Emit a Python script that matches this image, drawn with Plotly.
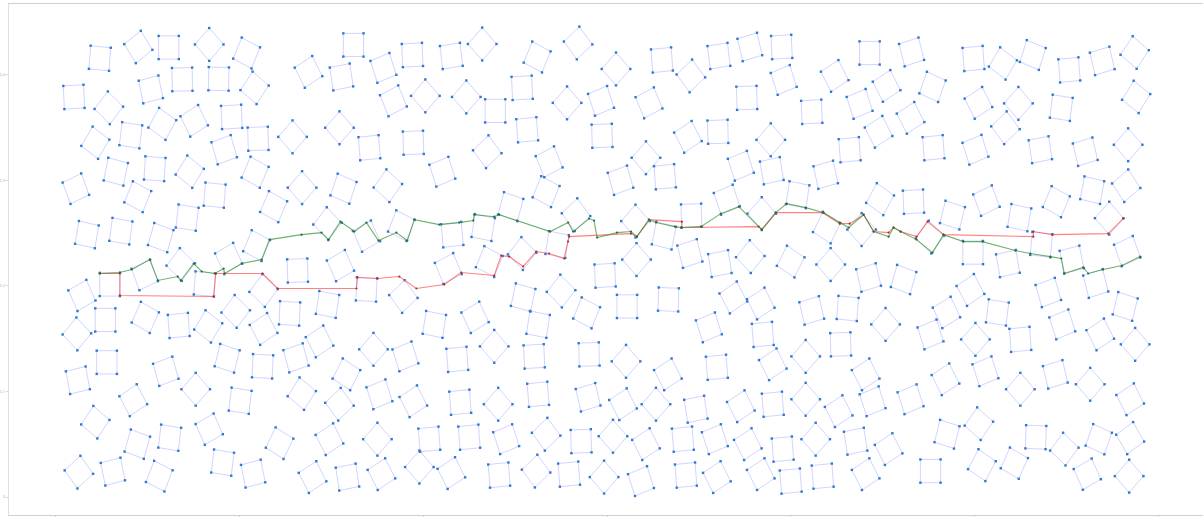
import numpy as np
import plotly.graph_objects as go

# Square obstacles: centre (x, y) and rotation in degrees
obs_x = [0.0478, 0.0897, 0.1228, 0.1669, 0.2076, 0.0196, 0.0576, 0.1033, 0.1375, 0.1772,
         0.2163, 0.1158, 0.0815, 0.0429, 0.1505, 0.1913, 0.1832, 0.2201, 0.2576, 0.0652,
         0.1076, 0.1457, 0.2169, 0.0217, 0.0891, 0.1728, 0.2370, 0.0337, 0.0707, 0.1141,
         0.1429, 0.2185, 0.1359, 0.0967, 0.1881, 0.1620, 0.0587, 0.0283, 0.2261, 0.2631,
         0.2544, 0.1957, 0.2261, 0.1658, 0.1337, 0.0973, 0.0538, 0.0228, 0.0239, 0.0554,
         0.1196, 0.1522, 0.1864, 0.2250, 0.2614, 0.0842, 0.2006, 0.2677, 0.0429, 0.0886,
         0.1239, 0.1669, 0.2435, 0.0250, 0.0620, 0.1125, 0.1815, 0.2147, 0.2794, 0.2680,
         0.3131, 0.3614, 0.4951, 0.5337, 0.5663, 0.2957, 0.3761, 0.3381, 0.4315, 0.4652,
         0.5076, 0.5457, 0.4718, 0.4272, 0.3098, 0.3381, 0.3783, 0.5087, 0.5500, 0.5979,
         0.2957, 0.4563, 0.4120, 0.5250, 0.5778, 0.6147, 0.6631, 0.7305, 0.7794, 0.8076,
         0.8381, 0.8973, 0.6310, 0.6919, 0.6620, 0.7685, 0.8392, 0.8772, 0.6321, 0.6902,
         0.7229, 0.7560, 0.8000, 0.8435, 0.8848, 0.6218, 0.6669, 0.7375, 0.7674, 0.8229,
         0.8620, 0.9337, 0.9761, 1.0131, 1.0490, 1.0892, 1.1283, 1.1653, 1.1468, 0.9517,
         0.9984, 1.0365, 1.0729, 1.1060, 1.1321, 1.1664, 0.9229, 0.9957, 1.0250, 1.0805,
         1.1642, 0.9696, 0.9316, 0.9990, 1.0310, 1.0636, 1.1033, 1.1392, 1.1745, 0.9544,
         1.0479, 1.0946, 1.1761, 1.0044, 0.9702, 1.0049, 1.0669, 1.0979, 1.1354, 1.1696,
         0.9522, 1.0082, 1.0435, 1.1229, 1.1685,
         # upper middle band
         0.2750, 0.3239, 0.3109, 0.3565, 0.3881, 0.4305, 0.4641, 0.5076, 0.5239, 0.5685,
         0.6098, 0.6598, 0.6913, 0.7218, 0.7555, 0.7902, 0.7924, 0.8479, 0.8859, 0.9044,
         0.3674, 0.4022, 0.4468, 0.4783, 0.5565, 0.5935, 0.7522, 0.8229, 0.8750, 0.9305,
         0.3087, 0.5131, 0.3413, 0.3891, 0.4207, 0.4696, 0.5370, 0.5946, 0.6424, 0.6881,
         0.7207, 0.7457, 0.7783, 0.8642, 0.8957, 0.9555, 0.6457,
         1.0011, 1.0338, 1.0718, 1.1207, 1.1674,
         # lower right band
         0.9522, 1.0011, 1.0500, 1.0957, 1.1370, 1.1750, 0.9685, 1.0120, 1.0500, 1.0881,
         1.1261, 1.1696, 0.9305,
         # lower middle band
         0.2870, 0.3457, 0.4772, 0.7109, 0.7696, 0.9033,
         0.3163, 0.3805, 0.4370, 0.5207, 0.5805, 0.6207, 0.6663, 0.7196, 0.7805, 0.8163,
         0.8544, 0.8816,
         0.3087, 0.3522, 0.3891, 0.4402, 0.4815, 0.5250, 0.5794, 0.6174, 0.6533, 0.6968,
         0.7457, 0.7805, 0.8163, 0.8522, 0.8892,
         0.2978, 0.3500, 0.4065, 0.4500, 0.4902, 0.5337, 0.5718, 0.6065, 0.6424, 0.6826,
         0.7174, 0.7533, 0.7913, 0.8272, 0.8707, 0.9066,
         0.3174, 0.3544, 0.3957, 0.4305, 0.4826, 0.5228, 0.5587, 0.5968, 0.6370, 0.6859,
         0.7196, 0.7674, 0.8000, 0.8348, 0.8816]
obs_y = [0.4155, 0.4262, 0.4257, 0.4286, 0.4205, 0.3789, 0.3686, 0.3860, 0.3955, 0.3960,
         0.3875, 0.3534, 0.3426, 0.3355, 0.3563, 0.3600, 0.3289, 0.3393, 0.3411, 0.3081,
         0.3109, 0.3081, 0.3076, 0.2920, 0.2844, 0.2859, 0.2750, 0.2485, 0.2518, 0.2457,
         0.2646, 0.2381, 0.2202, 0.2103, 0.2259, 0.2018, 0.2013, 0.1909, 0.1956, 0.2145,
         0.1739, 0.1758, 0.1592, 0.1616, 0.1625, 0.1701, 0.1677, 0.1545, 0.1106, 0.1276,
         0.1191, 0.1021, 0.1314, 0.1238, 0.1318, 0.0917, 0.0912, 0.0979, 0.0709, 0.0501,
         0.0562, 0.0643, 0.0510, 0.0236, 0.0241, 0.0198, 0.0326, 0.0222, 0.0189, 0.2930,
         0.2920, 0.2948, 0.2750, 0.2892, 0.2674, 0.2589, 0.2570, 0.2471, 0.2485, 0.2552,
         0.2306, 0.2391, 0.2230, 0.2164, 0.2192, 0.1966, 0.1899, 0.1890, 0.1951, 0.2098,
         0.1824, 0.1702, 0.1635, 0.1635, 0.1744, 0.3000, 0.3033, 0.2816, 0.3090, 0.2863,
         0.3052, 0.2821, 0.2613, 0.2665, 0.2476, 0.2684, 0.2552, 0.2533, 0.2249, 0.2306,
         0.2211, 0.2277, 0.2230, 0.2202, 0.2079, 0.1805, 0.1871, 0.1890, 0.1833, 0.1767,
         0.1786, 0.2797, 0.2670, 0.2807, 0.2646, 0.2797, 0.2906, 0.2948, 0.2641, 0.2462,
         0.2315, 0.2211, 0.2391, 0.2249, 0.2022, 0.2329, 0.2060, 0.1961, 0.1748, 0.1937,
         0.1805, 0.1748, 0.4215, 0.4153, 0.4106, 0.4186, 0.4045, 0.4130, 0.4210, 0.3884,
         0.3728, 0.3686, 0.3789, 0.3733, 0.0595, 0.0695, 0.0567, 0.0454, 0.0548, 0.0558,
         0.0246, 0.0302, 0.0321, 0.0217, 0.0198,
         0.4026, 0.4281, 0.3978, 0.4064, 0.4186, 0.4177, 0.4290, 0.3875, 0.4167, 0.4300,
         0.4054, 0.4139, 0.3988, 0.4177, 0.4262, 0.4262, 0.3950, 0.3988, 0.4205, 0.3893,
         0.3752, 0.3799, 0.3789, 0.3657, 0.3733, 0.3752, 0.3780, 0.3648, 0.3723, 0.3591,
         0.3497, 0.3478, 0.3308, 0.3355, 0.3081, 0.3270, 0.3175, 0.3421, 0.3213, 0.3411,
         0.3459, 0.3137, 0.3383, 0.3289, 0.3459, 0.3308, 0.3733,
         0.3289, 0.3497, 0.3289, 0.3270, 0.3336,
         0.1540, 0.1493, 0.1493, 0.1635, 0.1540, 0.1446, 0.1115, 0.1191, 0.1021, 0.1162,
         0.1068, 0.0926, 0.0926,
         0.1474, 0.1399, 0.1427, 0.1607, 0.1540, 0.1635,
         0.1162, 0.1332, 0.1304, 0.1332, 0.1351, 0.1285, 0.1162, 0.1229, 0.1257, 0.1332,
         0.1446, 0.1162,
         0.0879, 0.0973, 0.0907, 0.0898, 0.0879, 0.0973, 0.0945, 0.0879, 0.0879, 0.0832,
         0.0860, 0.0879, 0.0926, 0.0813, 0.0907,
         0.0548, 0.0548, 0.0548, 0.0567, 0.0548, 0.0595, 0.0529, 0.0576, 0.0501, 0.0548,
         0.0548, 0.0501, 0.0454, 0.0548, 0.0529, 0.0454,
         0.0189, 0.0217, 0.0284, 0.0227, 0.0208, 0.0246, 0.0217, 0.0189, 0.0151, 0.0208,
         0.0189, 0.0217, 0.0151, 0.0198, 0.0217]
obs_angle = [85, 35, 0, 45, 65, 3, 49, 13, 1, 89,
             53, 58, 82, 56, 29, 3, 18, 2, 45, 77,
             86, 55, 64, 23, 65, 85, 64, 79, 81, 72,
             82, 65, 49, 23, 27, 85, 0, 27, 50, 2,
             87, 49, 31, 56, 5, 63, 0, 47, 12, 0,
             18, 45, 74, 87, 17, 31, 82, 54, 53, 72,
             82, 27, 61, 39, 13, 66, 82, 13, 30, 45,
             69, 51, 73, 65, 40, 48, 66, 27, 6, 80,
             48, 80, 65, 25, 27, 87, 40, 76, 48, 3,
             80, 28, 80, 80, 65, 18, 5, 21, 11, 80,
             14, 58, 45, 2, 77, 45, 61, 45, 45, 16,
             10, 47, 60, 45, 15, 0, 88, 31, 30, 15,
             85, 3, 74, 23, 79, 64, 78, 37, 45, 50,
             0, 11, 84, 13, 16, 22, 72, 31, 82, 18,
             74, 28, 16, 5, 56, 70, 5, 15, 53, 68,
             45, 82, 55, 30, 74, 52, 88, 50, 68, 33,
             0, 59, 63, 27, 45,
             30, 0, 10, 20, 3, 8, 45, 3, 65, 40,
             45, 5, 40, 8, 15, 3, 20, 30, 0, 30,
             25, 45, 45, 0, 45, 20, 2, 3, 20, 30,
             45, 5, 5, 2, 20, 40, 25, 2, 45, 30,
             2, 20, 45, 5, 30, 5, 25,
             20, 40, 10, 15, 45,
             20, 45, 5, 20, 30, 45, 30, 20, 45, 15,
             45, 30, 20,
             30, 45, 45, 20, 5, 45,
             60, 20, 5, 3, 2, 45, 30, 5, 30, 45,
             2, 30,
             40, 20, 30, 5, 45, 5, 15, 30, 45, 10,
             30, 5, 45, 30, 20,
             30, 45, 5, 5, 20, 40, 2, 45, 30, 5,
             20, 30, 5, 45, 10, 30,
             10, 30, 45, 30, 5, 40, 5, 45, 20, 5,
             30, 30, 5, 5, 30]
SIDE = 0.022

# Planned routes
red_x = [0.0478, 0.0696, 0.0696, 0.1717, 0.1739, 0.2250, 0.2413, 0.3272, 0.3283, 0.3500,
         0.3739, 0.3924, 0.4228, 0.4413, 0.4772, 0.4848, 0.4935, 0.5087, 0.5228, 0.5370,
         0.5533, 0.5576, 0.5587, 0.6261, 0.6326, 0.6457, 0.6815, 0.6815, 0.7652, 0.7685,
         0.7837, 0.8348, 0.8533, 0.8642, 0.8794, 0.8903, 0.9066, 0.9120, 0.9196, 0.9370,
         0.9490, 0.9663, 1.0642, 1.0642, 1.0848, 1.1457, 1.1620]
red_y = [0.2117, 0.2117, 0.1909, 0.1899, 0.2117, 0.2117, 0.1975, 0.1975, 0.2079, 0.2070,
         0.2088, 0.1975, 0.2013, 0.2126, 0.2098, 0.2287, 0.2277, 0.2183, 0.2325, 0.2306,
         0.2259, 0.2419, 0.2466, 0.2495, 0.2466, 0.2627, 0.2608, 0.2552, 0.2561, 0.2533,
         0.2693, 0.2693, 0.2589, 0.2589, 0.2674, 0.2514, 0.2504, 0.2552, 0.2514, 0.2466,
         0.2608, 0.2485, 0.2466, 0.2514, 0.2485, 0.2495, 0.2637]
green_x = [0.0478, 0.0696, 0.0826, 0.1022, 0.1109, 0.1326, 0.1359, 0.1500, 0.1587, 0.1728,
           0.1826, 0.1837, 0.2022, 0.2239, 0.2326, 0.2674, 0.2891, 0.2968, 0.3098, 0.3250,
           0.3381, 0.3511, 0.3707, 0.3826, 0.3902, 0.4174, 0.4391, 0.4544, 0.4555, 0.4772,
           0.4826, 0.5022, 0.5381, 0.5576, 0.5631, 0.5805, 0.5859, 0.5892, 0.6109, 0.6261,
           0.6326, 0.6457, 0.6533, 0.6739, 0.6805, 0.7022, 0.7239, 0.7435, 0.7685, 0.7837,
           0.7957, 0.8163, 0.8359, 0.8533, 0.8631, 0.8794, 0.8903, 0.9066, 0.9120, 0.9196,
           0.9370, 0.9544, 0.9663, 0.9881, 1.0087, 1.0446, 1.0609, 1.0826, 1.0946, 1.0979,
           1.1185, 1.1239, 1.1402, 1.1609, 1.1805]
green_y = [0.2117, 0.2126, 0.2155, 0.2249, 0.2051, 0.2088, 0.2051, 0.2211, 0.2136, 0.2117,
           0.2164, 0.2117, 0.2211, 0.2249, 0.2438, 0.2485, 0.2504, 0.2438, 0.2608, 0.2514,
           0.2599, 0.2429, 0.2504, 0.2429, 0.2627, 0.2580, 0.2599, 0.2618, 0.2674, 0.2655,
           0.2674, 0.2618, 0.2514, 0.2599, 0.2514, 0.2637, 0.2618, 0.2457, 0.2504, 0.2514,
           0.2466, 0.2627, 0.2599, 0.2561, 0.2552, 0.2561, 0.2684, 0.2750, 0.2533, 0.2693,
           0.2778, 0.2741, 0.2693, 0.2599, 0.2552, 0.2674, 0.2514, 0.2466, 0.2552, 0.2514,
           0.2438, 0.2315, 0.2485, 0.2419, 0.2419, 0.2334, 0.2306, 0.2277, 0.2259, 0.2117,
           0.2174, 0.2117, 0.2155, 0.2192, 0.2277]

x_ticks = [0.0, 0.2, 0.4, 0.6, 0.8, 1.0, 1.2]
y_ticks = [0.0, 0.1, 0.2, 0.3, 0.4]


def square_corners(cx, cy, ang):
    t = np.deg2rad(ang)
    h = SIDE / 2
    c, s = np.cos(t), np.sin(t)
    local = [(-h, -h), (h, -h), (h, h), (-h, h)]
    return [(cx + u * c - v * s, cy + u * s + v * c) for u, v in local]


edge_x, edge_y, vx, vy = [], [], [], []
for cx, cy, a in zip(obs_x, obs_y, obs_angle):
    pts = square_corners(cx, cy, a)
    for px, py in pts + [pts[0]]:
        edge_x.append(px)
        edge_y.append(py)
    edge_x.append(None)
    edge_y.append(None)
    for px, py in pts:
        vx.append(px)
        vy.append(py)

fig = go.Figure()
fig.add_trace(go.Scatter(x=edge_x, y=edge_y, mode="lines",
                         line=dict(color="rgba(120,120,255,0.33)", width=1),
                         hoverinfo="skip", showlegend=False))
fig.add_trace(go.Scatter(x=vx, y=vy, mode="markers",
                         marker=dict(color="#3178d0", size=2.4, symbol="square"),
                         showlegend=False))
fig.add_trace(go.Scatter(x=red_x, y=red_y, mode="lines+markers",
                         line=dict(color="rgba(255,70,70,0.68)", width=1.1),
                         marker=dict(color="#a83030", size=2.2),
                         showlegend=False))
fig.add_trace(go.Scatter(x=green_x, y=green_y, mode="lines+markers",
                         line=dict(color="rgba(50,145,50,0.7)", width=1.1),
                         marker=dict(color="#2a6a3a", size=2.2),
                         showlegend=False))

fig.update_layout(
    width=1203, height=517,
    margin=dict(l=7, r=0, t=4, b=1),
    paper_bgcolor="white", plot_bgcolor="white",
    xaxis=dict(range=[-0.0511, 1.2489], showgrid=False, zeroline=False,
               showline=True, linecolor="#d0d0d0", mirror=True,
               tickvals=x_ticks, ticks="outside", ticklen=2, tickcolor="#d0d0d0",
               showticklabels=False),
    yaxis=dict(range=[-0.0170, 0.4669], showgrid=False, zeroline=False,
               showline=True, linecolor="#e0e0e0",
               tickvals=y_ticks, ticks="outside", ticklen=2, tickcolor="#d8d8d8",
               tickfont=dict(size=4, color="#aaaaaa")),
)

fig.write_html("out.html")
